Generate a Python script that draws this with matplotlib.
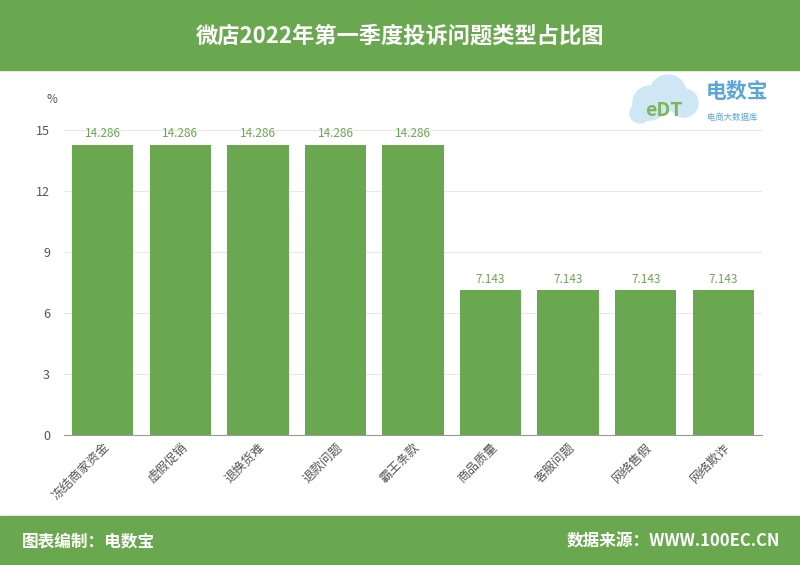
import matplotlib.pyplot as plt
from matplotlib.patches import Rectangle, Circle

plt.rcParams["font.family"] = ["Noto Sans CJK SC", "DejaVu Sans"]

GREEN = "#6AA84F"

categories = ["冻结商家资金", "虚假促销", "退换货难", "退款问题", "霸王条款",
              "商品质量", "客服问题", "网络售假", "网络欺诈"]
values = [14.286, 14.286, 14.286, 14.286, 14.286, 7.143, 7.143, 7.143, 7.143]
yticks = [0, 3, 6, 9, 12, 15]

fig = plt.figure(figsize=(8, 5.65), dpi=100)

# header and footer bands
fig.patches.append(Rectangle((0, 1 - 70 / 565), 1, 70 / 565, transform=fig.transFigure,
                             color=GREEN, zorder=0))
fig.patches.append(Rectangle((0, 0), 1, 49 / 565, transform=fig.transFigure,
                             color=GREEN, zorder=0))
fig.text(0.5, 1 - 36 / 565, "微店2022年第一季度投诉问题类型占比图", color="white",
         fontsize=16, fontweight="bold", ha="center", va="center")
fig.text(22 / 800, 24 / 565, "图表编制：电数宝", color="white", fontsize=12,
         fontweight="bold", ha="left", va="center")
fig.text(780 / 800, 24 / 565, "数据来源：WWW.100EC.CN", color="white", fontsize=12,
         fontweight="bold", ha="right", va="center")

# logo: soft cloud + text
logo = fig.add_axes([620 / 800, 1 - 135 / 565, 90 / 800, 70 / 565])
logo.set_xlim(0, 90)
logo.set_ylim(0, 70)
logo.set_aspect("equal")
logo.axis("off")
for cx, cy, r in [(30, 32, 17), (48, 42, 18), (64, 32, 14), (20, 22, 10)]:
    logo.add_patch(Circle((cx, cy), r, color="#CFE6F5", zorder=1))
logo.text(44, 24, "eDT", color="#7DB65A", fontsize=14, fontweight="bold",
          ha="center", va="center", zorder=2)
fig.text(706 / 800, 1 - 92 / 565, "电数宝", color="#5BA6D9", fontsize=15,
         fontweight="bold", ha="left", va="center")
fig.text(707 / 800, 1 - 117 / 565, "电商大数据库", color="#5BA6D9", fontsize=6,
         ha="left", va="center")

ax = fig.add_axes([64 / 800, 130 / 565, 698 / 800, 305 / 565])
x = range(len(categories))
bars = ax.bar(x, values, width=0.79, color=GREEN, zorder=2)
ax.bar_label(bars, labels=[f"{v:.3f}" for v in values], padding=3,
             fontsize=8.5, color=GREEN)

ax.set_xlim(-0.5, len(categories) - 0.5)
ax.set_ylim(0, 15)
ax.set_yticks(yticks)
ax.tick_params(axis="y", length=0, labelsize=9, labelcolor="#555555", pad=10)
ax.tick_params(axis="x", length=0, labelsize=9, labelcolor="#555555", pad=4)
ax.set_xticks(list(x))
ax.set_xticklabels(categories, rotation=45, ha="right", rotation_mode="anchor")
ax.grid(axis="y", color="#E8E8E8", linewidth=0.8, zorder=0)
for side in ["top", "right", "left"]:
    ax.spines[side].set_visible(False)
ax.spines["bottom"].set_color("#999999")
ax.text(-0.01, 1.1, "%", transform=ax.transAxes, fontsize=8.5, color="#555555",
        ha="right", va="center")

fig.savefig("out.png", dpi=100)
